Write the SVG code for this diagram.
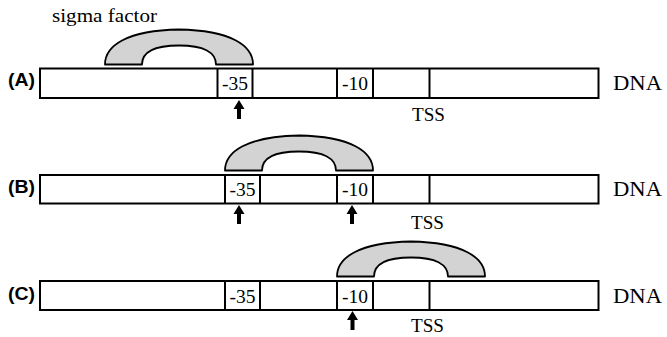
<svg xmlns="http://www.w3.org/2000/svg" width="667" height="337" viewBox="0 0 667 337">
<defs>
<style>
.dna{fill:#fff;stroke:#000;stroke-width:2}
.div{stroke:#000;stroke-width:2}
.sig{fill:#d3d3d3;stroke:#000;stroke-width:1.8;stroke-linejoin:round}
.serif{font-family:"Liberation Serif","DejaVu Serif",serif;font-size:19px;fill:#000}
.num{font-size:18px}
.big{font-size:20px}
.lab{font-family:"Liberation Sans",Arial,sans-serif;font-size:19px;font-weight:bold;fill:#000}
.arr{fill:#000}
</style>
<path id="sigma" d="M0,35 C0,16 22,1 74,0 C126,1 148,16 148,35 L111,35 C111,23 99,16 74,16 C49,16 37,23 37,35 Z"/>
<path id="arrow" d="M0,0 L5.5,9 L2,9 L2,19 L-2,19 L-2,9 L-5.5,9 Z"/>
</defs>
<rect width="667" height="337" fill="#fff"/>
<text class="serif" x="52" y="22" textLength="105" lengthAdjust="spacingAndGlyphs">sigma factor</text>

<g id="rowA">
<text class="lab" x="8" y="86" textLength="27" lengthAdjust="spacingAndGlyphs">(A)</text>
<use href="#sigma" class="sig" transform="translate(105,29.5)"/>
<rect class="dna" x="40" y="68.5" width="558.5" height="29.5"/>
<line class="div" x1="217.5" y1="68.5" x2="217.5" y2="98"/>
<line class="div" x1="252.5" y1="68.5" x2="252.5" y2="98"/>
<line class="div" x1="337" y1="68.5" x2="337" y2="98"/>
<line class="div" x1="373" y1="68.5" x2="373" y2="98"/>
<line class="div" x1="429.5" y1="68.5" x2="429.5" y2="98"/>
<text class="serif num" x="235" y="89.5" text-anchor="middle" textLength="26" lengthAdjust="spacingAndGlyphs">-35</text>
<text class="serif num" x="355" y="89.5" text-anchor="middle" textLength="26" lengthAdjust="spacingAndGlyphs">-10</text>
<text class="serif big" x="613" y="89.5" textLength="49" lengthAdjust="spacingAndGlyphs">DNA</text>
<text class="serif" x="412" y="120.5" textLength="33" lengthAdjust="spacingAndGlyphs">TSS</text>
<use href="#arrow" class="arr" transform="translate(239,100)"/>
</g>

<g id="rowB">
<text class="lab" x="8" y="193" textLength="27" lengthAdjust="spacingAndGlyphs">(B)</text>
<use href="#sigma" class="sig" transform="translate(225,135.5)"/>
<rect class="dna" x="40" y="175" width="558.5" height="28.5"/>
<line class="div" x1="225" y1="175" x2="225" y2="203.5"/>
<line class="div" x1="260" y1="175" x2="260" y2="203.5"/>
<line class="div" x1="337" y1="175" x2="337" y2="203.5"/>
<line class="div" x1="373" y1="175" x2="373" y2="203.5"/>
<line class="div" x1="429.5" y1="175" x2="429.5" y2="203.5"/>
<text class="serif num" x="242.5" y="196" text-anchor="middle" textLength="26" lengthAdjust="spacingAndGlyphs">-35</text>
<text class="serif num" x="355" y="196" text-anchor="middle" textLength="26" lengthAdjust="spacingAndGlyphs">-10</text>
<text class="serif big" x="613" y="196" textLength="49" lengthAdjust="spacingAndGlyphs">DNA</text>
<text class="serif" x="411" y="229" textLength="33" lengthAdjust="spacingAndGlyphs">TSS</text>
<use href="#arrow" class="arr" transform="translate(239,205)"/>
<use href="#arrow" class="arr" transform="translate(352,205)"/>
</g>

<g id="rowC">
<text class="lab" x="8" y="300" textLength="27" lengthAdjust="spacingAndGlyphs">(C)</text>
<use href="#sigma" class="sig" transform="translate(337,241.5)"/>
<rect class="dna" x="40" y="281" width="558.5" height="29"/>
<line class="div" x1="225" y1="281" x2="225" y2="310"/>
<line class="div" x1="260" y1="281" x2="260" y2="310"/>
<line class="div" x1="337" y1="281" x2="337" y2="310"/>
<line class="div" x1="373" y1="281" x2="373" y2="310"/>
<line class="div" x1="429.5" y1="281" x2="429.5" y2="310"/>
<text class="serif num" x="242.5" y="302.5" text-anchor="middle" textLength="26" lengthAdjust="spacingAndGlyphs">-35</text>
<text class="serif num" x="355" y="302.5" text-anchor="middle" textLength="26" lengthAdjust="spacingAndGlyphs">-10</text>
<text class="serif big" x="613" y="302.5" textLength="49" lengthAdjust="spacingAndGlyphs">DNA</text>
<text class="serif" x="411" y="331.5" textLength="33" lengthAdjust="spacingAndGlyphs">TSS</text>
<use href="#arrow" class="arr" transform="translate(352.5,311)"/>
</g>
</svg>
